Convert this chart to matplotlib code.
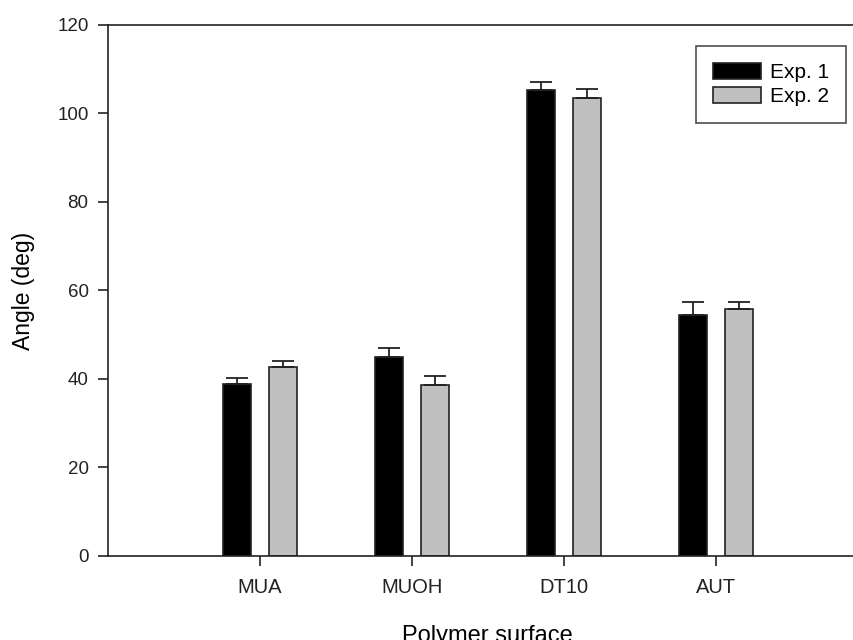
import numpy as np
import matplotlib.pyplot as plt

plt.rcParams['font.family'] = ['Liberation Sans', 'DejaVu Sans']

surfaces = ["MUA", "MUOH", "DT10", "AUT"]
exp1 = [38.8, 45.0, 105.3, 54.5]
exp1_err = [1.4, 2.0, 1.8, 2.9]
exp2 = [42.6, 38.6, 103.5, 55.9]
exp2_err = [1.5, 2.1, 2.0, 1.5]

fig = plt.figure(figsize=(8.54, 6.4), dpi=100)
ax = fig.add_axes([0.1265, 0.13125, 0.8895, 0.82975])

x = np.arange(1, len(surfaces) + 1)
w = 0.185
off = 0.152
ekw = dict(elinewidth=1.3, capthick=1.3, ecolor="#222222")

ax.bar(x - off, exp1, w, color="black", edgecolor="#222222", linewidth=1.2,
       label="Exp. 1", yerr=[np.zeros(4), exp1_err], capsize=8, error_kw=ekw)
ax.bar(x + off, exp2, w, color="#c0c0c0", edgecolor="#222222", linewidth=1.2,
       label="Exp. 2", yerr=[np.zeros(4), exp2_err], capsize=8, error_kw=ekw)

ax.set_xlim(0, 5)
ax.set_ylim(0, 120)
ax.set_yticks(range(0, 121, 20))
ax.set_xticks(x)
ax.set_xticklabels(surfaces)
ax.tick_params(direction="out", length=7, width=1.2, colors="#222222")
ax.tick_params(axis="y", labelsize=13.5, pad=7)
ax.tick_params(axis="x", labelsize=14.5, pad=9)
for s in ax.spines.values():
    s.set_linewidth(1.2)
    s.set_color("#222222")

ax.set_xlabel("Polymer surface", fontsize=17, labelpad=20)
ax.set_ylabel("Angle (deg)", fontsize=16.5, labelpad=16)

leg = ax.legend(loc="upper left", bbox_to_anchor=(0.774, 0.9605), fontsize=15,
                frameon=True, fancybox=False, edgecolor="#222222",
                handlelength=2.3, handleheight=0.8, borderpad=0.8, labelspacing=0.25,
                handletextpad=0.45, borderaxespad=0)
leg.get_frame().set_linewidth(1.2)

fig.savefig("out.png", dpi=100)
